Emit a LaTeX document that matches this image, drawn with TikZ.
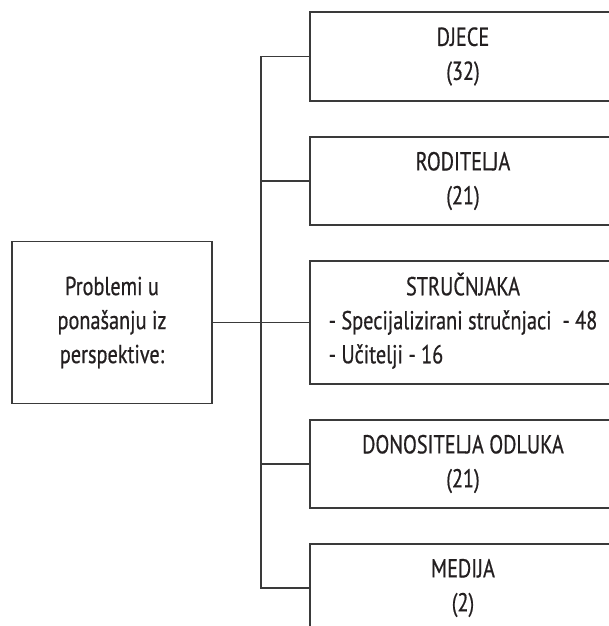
\documentclass[tikz,border=0pt]{standalone}
\usepackage{fontspec}
\setmainfont{PT Sans}[FakeStretch=0.78, FakeBold=0.6]
\definecolor{linec}{HTML}{3A3A3A}
\definecolor{textc}{HTML}{231F20}
\begin{document}
\begin{tikzpicture}[x=1pt,y=1pt,
  box/.style={draw=linec, line width=1.1pt, inner sep=0pt, align=center,
    font=\fontsize{26}{34}\selectfont, text=textc},
  rbox/.style={box, minimum width=306pt},
  conn/.style={draw=linec, line width=1.1pt}]
\useasboundingbox (0,0) rectangle (609,626);
\clip (0,0) rectangle (609,626);
\node[rbox, minimum height=89pt] (djece) at (463,569.5) {DJECE\\(32)};
\node[rbox, minimum height=88pt] (roditelja) at (463,445) {RODITELJA\\(21)};
\node[rbox, minimum height=123pt] (strucnjaka) at (463,303.5)
  {\begin{tabular}{@{}l@{}}\multicolumn{1}{@{}c@{}}{STRUČNJAKA}\\
   - Specijalizirani stručnjaci~~- 48\\
   - Učitelji - 16\end{tabular}};
\node[rbox, minimum height=88pt] (donositelja) at (463,162) {DONOSITELJA ODLUKA\\(21)};
\node[rbox, minimum height=88pt] (medija) at (463,38) {MEDIJA\\(2)};
\node[box, minimum width=200pt, minimum height=162pt] (problemi) at (112,303.5)
  {Problemi u\\ponašanju iz\\perspektive:};
\coordinate (trunk) at (261,0);
\draw[conn] (problemi.east) -- (strucnjaka.west);
\draw[conn] (djece.west) -- (djece.west -| trunk) -- (medija.west -| trunk) -- (medija.west);
\draw[conn] (roditelja.west) -- (roditelja.west -| trunk);
\draw[conn] (donositelja.west) -- (donositelja.west -| trunk);
\end{tikzpicture}
\end{document}
